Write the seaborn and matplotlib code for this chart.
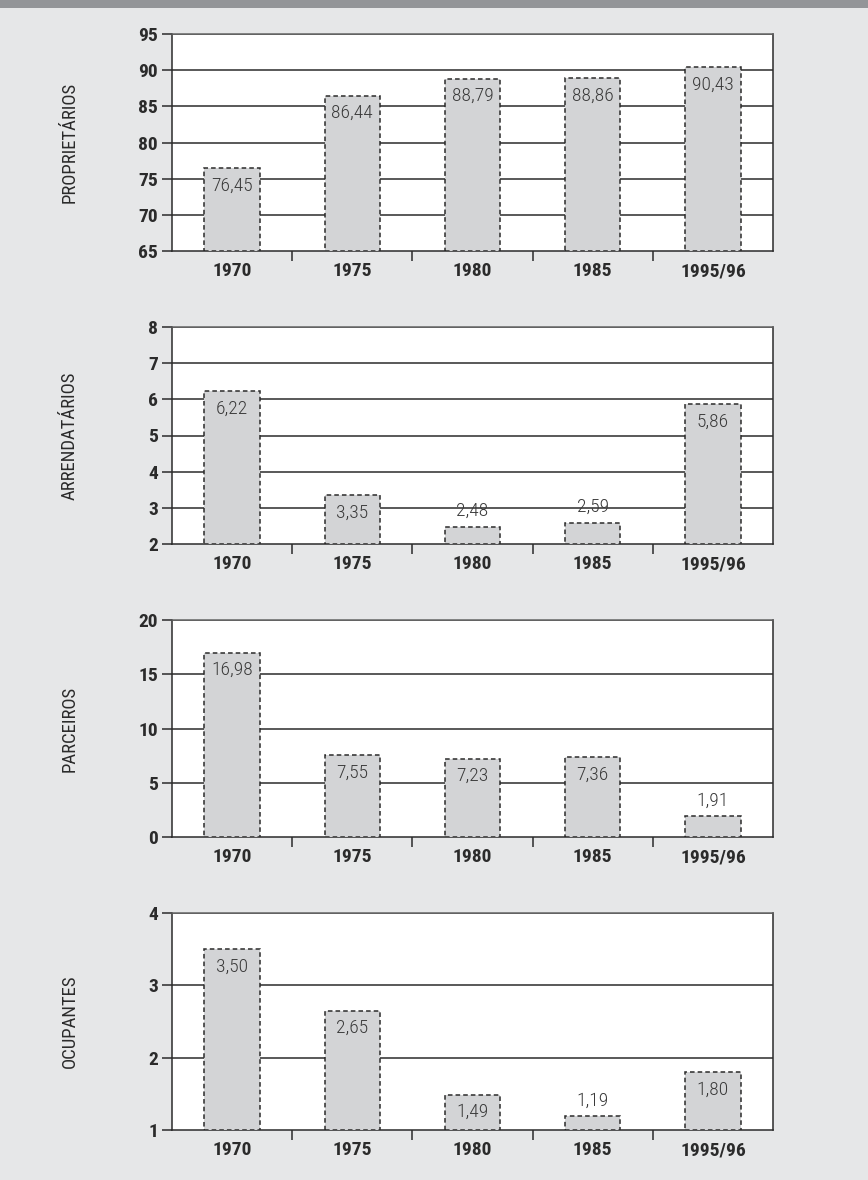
import matplotlib
matplotlib.use("Agg")
import matplotlib.pyplot as plt
from matplotlib import font_manager
import seaborn as sns
import pandas as pd

# Census years and the share of establishments by producer condition (%)
years = ["1970", "1975", "1980", "1985", "1995/96"]
proprietarios = [76.45, 86.44, 88.79, 88.86, 90.43]
arrendatarios = [6.22, 3.35, 2.48, 2.59, 5.86]
parceiros = [16.98, 7.55, 7.23, 7.36, 1.91]
ocupantes = [3.50, 2.65, 1.49, 1.19, 1.80]

panel_titles = ["PROPRIETÁRIOS", "ARRENDATÁRIOS", "PARCEIROS", "OCUPANTES"]
panel_limits = [(65, 95, 5), (2, 8, 1), (0, 20, 5), (1, 4, 1)]

sns.set_theme(style="white")
plt.rcParams["font.family"] = ["DejaVu Sans"]


def narrow_font(weights):
    """Look for an installed condensed/narrow face of one of the given weights."""
    cands = []
    for f in font_manager.fontManager.ttflist:
        path = f.fname.lower()
        is_narrow = ("narrow" in path or "condensed" in path or "cond" in path
                     or str(f.stretch) in ("condensed", "semi-condensed", "extra-condensed"))
        if is_narrow and f.weight in weights and f.style == "normal":
            cands.append(f)
    if not cands:
        return None
    cands.sort(key=lambda f: ("roboto" not in f.fname.lower(), "liberation" not in f.fname.lower()))
    return font_manager.FontProperties(fname=cands[0].fname)


bold_fp = narrow_font([600, 700, "bold", "semibold", "demibold"]) or \
    font_manager.FontProperties(family="DejaVu Sans", weight="bold")
reg_fp = narrow_font([400, "normal", "regular"]) or \
    font_manager.FontProperties(family="DejaVu Sans")
light_fp = narrow_font([300, "light"]) or reg_fp

BG = "#e6e7e8"
BAR = "#d3d4d6"
INK = "#2b2b2b"

W, H = 868, 1180
fig = plt.figure(figsize=(W / 100, H / 100), dpi=100, facecolor=BG)

# dark band across the top edge
fig.patches.append(plt.Rectangle((0, 1 - 8 / H), 1, 8 / H, transform=fig.transFigure,
                                 facecolor="#939598", edgecolor="none"))

left_px, right_px = 172, 773
tops_px = [34, 327, 620, 913]
height_px = 217

series = [proprietarios, arrendatarios, parceiros, ocupantes]


def fp(base, size):
    p = base.copy()
    p.set_size(size)
    return p


for title, values, (ymin, ymax, step), top in zip(panel_titles, series, panel_limits, tops_px):
    ax = fig.add_axes([left_px / W, 1 - (top + height_px) / H,
                       (right_px - left_px) / W, height_px / H])
    ax.set_facecolor("white")
    df = pd.DataFrame({"ano": years, "valor": values})
    sns.barplot(data=df, x="ano", y="valor", ax=ax, color=BAR, saturation=1,
                width=0.46, edgecolor=INK, linewidth=1.1, linestyle=(0, (3, 2)),
                zorder=3)
    for p in ax.patches:
        p.set_facecolor(BAR)
        p.set_y(ymin)
        p.set_height(p.get_height() - ymin)

    ax.set_ylim(ymin, ymax)
    ax.set_xlim(-0.5, len(years) - 0.5)
    ticks = list(range(ymin, ymax + 1, step))
    ax.set_yticks(ticks)
    ax.set_yticklabels([str(t) for t in ticks], fontproperties=fp(bold_fp, 14), color=INK)
    for t in ticks[1:]:
        ax.axhline(t, color=INK, linewidth=1.1, zorder=1)

    ax.set_xticks(range(len(years)))
    ax.set_xticklabels(years, fontproperties=fp(bold_fp, 14), color=INK)
    ax.set_xticks([i + 0.5 for i in range(len(years) - 1)], minor=True)
    ax.tick_params(axis="x", which="major", length=0, pad=8)
    ax.tick_params(axis="x", which="minor", length=7, width=1.1, color=INK, direction="out", bottom=True)
    ax.tick_params(axis="y", which="major", length=7, width=1.1, color=INK, direction="out", left=True, pad=3)
    ax.set_xlabel("")
    ax.set_ylabel("")

    for side in ["left", "right", "bottom", "top"]:
        ax.spines[side].set_visible(True)
        ax.spines[side].set_color(INK)
        ax.spines[side].set_linewidth(1.1)
    ax.spines["top"].set_color("#666666")

    span = ymax - ymin
    for i, v in enumerate(values):
        txt = f"{v:.2f}".replace(".", ",")
        if (v - ymin) / span < 0.15:
            ax.annotate(txt, (i, v), xytext=(0, 5), textcoords="offset points",
                        ha="center", va="bottom", fontproperties=fp(light_fp, 14),
                        color="#3a3a3a", zorder=5)
        else:
            ax.annotate(txt, (i, v), xytext=(0, -6), textcoords="offset points",
                        ha="center", va="top", fontproperties=fp(light_fp, 14),
                        color="#3a3a3a", zorder=5)

    fig.text(70 / W, 1 - (top + height_px / 2) / H, title, rotation=90,
             ha="center", va="center", fontproperties=fp(reg_fp, 13.5), color=INK)

fig.savefig("out.png", dpi=100, facecolor=BG)
